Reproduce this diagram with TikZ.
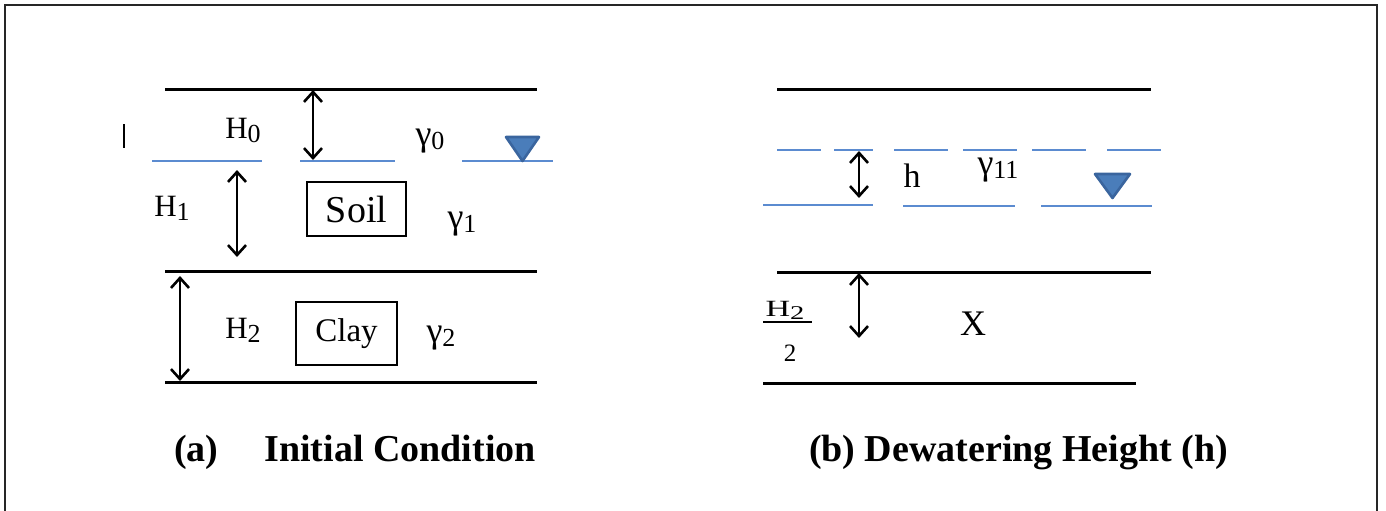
\documentclass[tikz,border=0pt]{standalone}
\usepackage{fontspec}
\setmainfont{Liberation Serif}
\usepackage{tikz}
\usetikzlibrary{arrows.meta}
\definecolor{water}{HTML}{5B8BD0}
\definecolor{wfill}{HTML}{4A7DBA}
\definecolor{wedge}{HTML}{3A659E}
\newcommand{\lsub}[1]{\raisebox{-2pt}{\fontsize{13}{15}\selectfont #1}}
\newcommand{\gam}{{\fontsize{18}{20}\selectfont γ}}

\begin{document}
\begin{tikzpicture}[x=0.5pt,y=-0.5pt,
  ground/.style={line width=1.5pt,black},
  wline/.style={line width=0.6pt,water},
  dim/.style={{Straight Barb[length=5pt,width=9pt]}-{Straight Barb[length=5pt,width=9pt]},line width=1.3pt},
  lbl/.style={font=\fontsize{15.5}{18}\selectfont,inner sep=0pt},
  box/.style={draw,line width=0.6pt,inner sep=0pt},
  wtri/.style={fill=wfill,draw=wedge,line width=1.3pt,line join=round},
  title/.style={font=\fontsize{19}{22}\selectfont\bfseries,inner sep=0pt}]
\useasboundingbox (0,0) rectangle (1386,510);
\draw[line width=1.1pt,black!85] (5,512) -- (5,5) -- (1377,5) -- (1377,512);

% (a) initial condition
\draw[ground] (165,89) -- (537,89);
\draw[ground] (165,271) -- (537,271);
\draw[ground] (165,382) -- (537,382);
\draw[wline] (152,161) -- (262,161) (300,161) -- (395,161) (462,161) -- (553,161);
\draw[wtri] (506,137) -- (539,137) -- (522.5,161) -- cycle;
\draw[line width=0.7pt] (124,124) -- (124,148);

\coordinate (h0a) at (313,90);
\coordinate (h0b) at (313,160);
\coordinate (h1a) at (237,170);
\coordinate (h1b) at (237,257);
\coordinate (h2a) at (180,276);
\coordinate (h2b) at (180,381);
\draw[dim] (h0a) -- (h0b);
\draw[dim] (h1a) -- (h1b);
\draw[dim] (h2a) -- (h2b);

\node[lbl] (H0) at (243,130) {H\lsub{0}};
\node[lbl] (g0) at (430,141) {\gam\lsub{0}};
\node[lbl] (H1) at (172,208) {H\lsub{1}};
\node[lbl] (g1) at (462,224) {\gam\lsub{1}};
\node[lbl] (H2) at (243,330) {H\lsub{2}};
\node[lbl] (g2) at (441,338) {\gam\lsub{2}};
\node[box,minimum width=49.5pt,minimum height=27pt,font=\fontsize{19}{22}\selectfont] (soil) at (356.5,209) {Soil};
\node[box,minimum width=50.5pt,minimum height=31.5pt,font=\fontsize{16.5}{19}\selectfont] (clay) at (346.5,333.5) {Clay};
\node[title] (capa) at (355,452) {(a)\hspace{23pt}Initial Condition};

% (b) dewatering height
\draw[ground] (777,89) -- (1151,89);
\draw[ground] (777,272) -- (1151,272);
\draw[ground] (763,383) -- (1136,383);
\draw[wline] (777,150) -- (821,150) (834,150) -- (873,150) (894,150) -- (948,150)
  (963,150) -- (1017,150) (1032,150) -- (1086,150) (1107,150) -- (1161,150);
\draw[wline] (763,205) -- (873,205) (903,206) -- (1015,206) (1041,206) -- (1152,206);
\draw[wtri] (1095,174) -- (1130,174) -- (1112.5,198) -- cycle;

\coordinate (ha) at (859,151);
\coordinate (hb) at (859,198);
\coordinate (xa) at (859,273);
\coordinate (xb) at (859,338);
\draw[dim] (ha) -- (hb);
\draw[dim] (xa) -- (xb);

\node[lbl,font=\fontsize{17}{20}\selectfont] (hl) at (912,176) {h};
\node[lbl] (g11) at (998,170) {\gam\lsub{11}};
\node[lbl] (Hh) at (785,310) {\scalebox{1.1}[0.75]{H\lsub{2}}};
\draw[line width=1.3pt] (763,322) -- (812,322);
\node[lbl,font=\fontsize{12.5}{14}\selectfont] (two) at (790,353) {2};
\node[lbl,font=\fontsize{18}{20}\selectfont] (xl) at (973,324) {X};
\node[title] (capb) at (1018.5,452) {(b) Dewatering Height (h)};
\end{tikzpicture}
\end{document}
